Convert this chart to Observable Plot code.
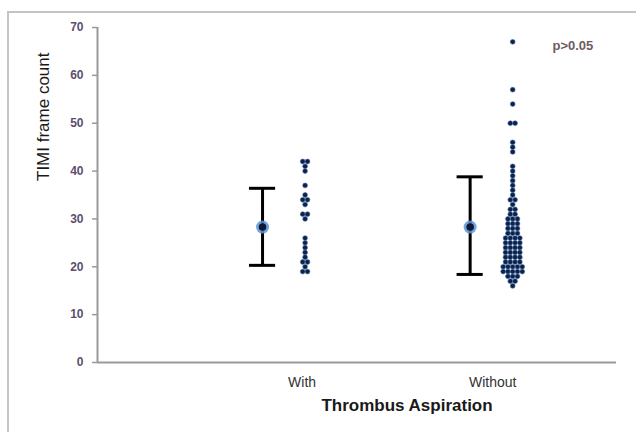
<!DOCTYPE html>
<html>
<head>
<meta charset="utf-8">
<script src="https://cdn.jsdelivr.net/npm/d3@7"></script>
<script src="https://cdn.jsdelivr.net/npm/@observablehq/plot@0.6"></script>
<style>
  html, body { margin: 0; padding: 0; background: #fff; overflow: hidden; }
  #wrap { position: relative; width: 636px; height: 432px; }
  #border { position: absolute; left: 7px; top: 11px; width: 700px; height: 500px;
            border-top: 2px solid #c4c4c4; border-left: 2px solid #c4c4c4; pointer-events: none; }
</style>
</head>
<body>
<div id="wrap"><div id="border"></div></div>
<script>
// ---- data ----
const categories = ["With", "Without"];
const categoryPos = [1, 2];
const withValues = [42, 42, 41, 40, 37, 35, 34, 34, 33, 31, 31, 30, 26, 25, 24, 23, 22, 21, 21, 20, 19, 19];
const withoutValues = [
  67, 57, 54, 50, 50, 46, 45, 44, 41, 40, 39, 38, 37, 36, 35, 34, 34, 33, 32, 32, 31, 31,
  30, 30, 30, 29, 29, 29, 28, 28, 28, 27, 27, 27,
  26, 26, 26, 26, 25, 25, 25, 25, 24, 24, 24, 24, 23, 23, 23, 23, 22, 22, 22, 22, 21, 21, 21, 21,
  20, 20, 20, 20, 20, 19, 19, 19, 19, 19, 18, 18, 18, 17, 17, 16
];
const meanValues = [28.3, 28.3];
const lowValues = [20.3, 18.4];
const highValues = [36.4, 38.8];
const yTicks = [0, 10, 20, 30, 40, 50, 60, 70];
const yLabel = "TIMI frame count";
const xLabel = "Thrombus Aspiration";
const pLabel = "p>0.05";

// ---- layout constants (style) ----
const dotStep = 0.023;     // horizontal spacing of tied dots, x units
const errOffset = 0.205;   // error bar sits left of dot column, x units
const capHalf = 0.063;     // half cap width, x units

function toDots(values, g) {
  const counts = d3.rollup(values, v => v.length, v => v);
  const seen = new Map();
  return values.map(v => {
    const n = counts.get(v);
    const k = seen.get(v) || 0;
    seen.set(v, k + 1);
    return {group: categories[g], v, x: categoryPos[g] + (k - (n - 1) / 2) * dotStep};
  });
}
const dots = [...toDots(withValues, 0), ...toDots(withoutValues, 1)];
const bars = categories.map((c, i) => ({
  group: c, x: categoryPos[i] - errOffset, mean: meanValues[i], lo: lowValues[i], hi: highValues[i]
}));

const font = "'Liberation Sans', Arial, sans-serif";

const chart = Plot.plot({
  width: 636,
  height: 432,
  marginLeft: 97,
  marginRight: 20,
  marginTop: 27,
  marginBottom: 70,
  style: {fontFamily: font, background: "transparent", overflow: "visible"},
  x: {domain: [0, 2.5], axis: null},
  y: {domain: [0, 70], axis: null},
  marks: [
    Plot.axisY({ticks: yTicks, tickSize: 5, tickPadding: 9, stroke: "#9a9a9a", strokeWidth: 1.5,
      fill: "#5e4e6e", fontSize: 12, fontWeight: "bold", label: null}),
    Plot.ruleX([0], {y1: 0, y2: 70, stroke: "#9a9a9a", strokeWidth: 2}),
    Plot.ruleY([0], {stroke: "#9a9a9a", strokeWidth: 2}),
    // error bars
    Plot.ruleX(bars, {x: "x", y1: "lo", y2: "hi", stroke: "#000", strokeWidth: 3}),
    Plot.ruleY(bars, {y: "hi", x1: d => d.x - capHalf, x2: d => d.x + capHalf, stroke: "#000", strokeWidth: 3}),
    Plot.ruleY(bars, {y: "lo", x1: d => d.x - capHalf, x2: d => d.x + capHalf, stroke: "#000", strokeWidth: 3}),
    Plot.dot(bars, {x: "x", y: "mean", r: 6.5, fill: "#5f93d3", fillOpacity: 0.85}),
    Plot.dot(bars, {x: "x", y: "mean", r: 3.8, fill: "#0b1a3a"}),
    // individual values
    Plot.dot(dots, {x: "x", y: "v", r: 2.4, fill: "#0e2148", stroke: "#3f6aa3", strokeWidth: 0.6}),
    // category labels
    Plot.text([categories[0]], {x: categoryPos[0], y: 0, dy: 20, dx: -3, fontSize: 14, fill: "#333"}),
    Plot.text([categories[1]], {x: categoryPos[1], y: 0, dy: 20, dx: -20, fontSize: 14, fill: "#333"}),
    // axis titles
    Plot.text([xLabel], {frameAnchor: "bottom", dx: 50, dy: 48, fontSize: 17, fontWeight: "bold", fill: "#1a1a1a"}),
    Plot.text([yLabel], {frameAnchor: "left", rotate: -90, dx: -54, dy: -14, fontSize: 17, fill: "#1a1a1a"}),
    // annotation
    Plot.text([pLabel], {frameAnchor: "top-right", textAnchor: "start", dx: -64, dy: 13, fontSize: 13, fontWeight: "bold", fill: "#6e5b63"})
  ]
});
document.getElementById("wrap").prepend(chart);
</script>
</body>
</html>
